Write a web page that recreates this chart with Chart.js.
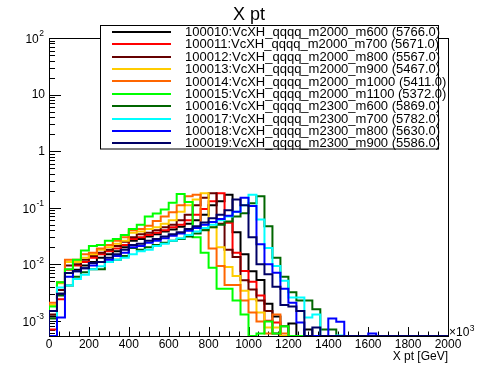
<!DOCTYPE html>
<html>
<head>
<meta charset="utf-8">
<script src="https://cdn.jsdelivr.net/npm/chart.js@4/dist/chart.umd.min.js"></script>
<style>
html,body{margin:0;padding:0;background:#fff;}
canvas{display:block;}
</style>
</head>
<body>
<canvas id="c" width="498" height="374"></canvas>
<script>
// ---- data ----
const binEdges = [0,40,80,120,160,200,240,280,320,360,400,440,480,520,560,600,640,680,720,760,
  800,840,880,920,960,1000,1040,1080,1120,1160,1200,1240,1280,1320,1360,1400,1440,1480,1520,1560,
  1600,1640,1680,1720,1760,1800,1840,1880,1920,1960,2000];

const seriesLabels = [
  "100010:VcXH_qqqq_m2000_m600 (5766.0)",
  "100011:VcXH_qqqq_m2000_m700 (5671.0)",
  "100012:VcXH_qqqq_m2000_m800 (5567.0)",
  "100013:VcXH_qqqq_m2000_m900 (5467.0)",
  "100014:VcXH_qqqq_m2000_m1000 (5411.0)",
  "100015:VcXH_qqqq_m2000_m1100 (5372.0)",
  "100016:VcXH_qqqq_m2300_m600 (5869.0)",
  "100017:VcXH_qqqq_m2300_m700 (5782.0)",
  "100018:VcXH_qqqq_m2300_m800 (5630.0)",
  "100019:VcXH_qqqq_m2300_m900 (5586.0)"
];

const s100010 = [0.0012,0.003,0.007,0.008,0.0095,0.011,0.013,0.015,0.017,0.02,
  0.026,0.028,0.031,0.034,0.038,0.041,0.046,0.052,0.06,0.075,
  0.11,0.13,0.17,0.037,0.015,0.0075,0.0053,0.002,0.0012,0,
  0.0009,0,0.0007,0,0,0,0,0,0,0, 0,0,0,0,0,0,0,0,0,0];
const s100011 = [0.0007,0.0024,0.008,0.0095,0.011,0.013,0.015,0.017,0.019,0.022,
  0.028,0.03,0.033,0.036,0.04,0.045,0.05,0.06,0.075,0.095,
  0.13,0.18,0.054,0.016,0.0076,0.0049,0.0028,0.001,0.00094,0,
  0,0,0,0,0,0,0,0,0,0, 0,0,0,0,0,0,0,0,0,0];
const s100012 = [0.0013,0.0035,0.0095,0.01,0.012,0.014,0.016,0.018,0.021,0.025,
  0.03,0.034,0.036,0.04,0.045,0.05,0.06,0.075,0.11,0.15,
  0.18,0.052,0.018,0.0135,0.0052,0.0036,0.0023,0.0015,0.0006,0.0008,
  0,0,0,0,0,0,0,0,0,0, 0,0,0,0,0,0,0,0,0,0];
const s100013 = [0.0019,0.0046,0.011,0.011,0.013,0.015,0.018,0.02,0.023,0.026,
  0.036,0.038,0.042,0.045,0.052,0.06,0.085,0.11,0.14,0.18,
  0.045,0.02,0.009,0.0062,0.0034,0.0024,0.0014,0.00076,0.00076,0,
  0,0,0,0,0,0,0,0,0,0, 0,0,0,0,0,0,0,0,0,0];
const s100014 = [0.0021,0.0048,0.012,0.012,0.015,0.016,0.019,0.022,0.026,0.03,
  0.04,0.042,0.048,0.058,0.07,0.083,0.11,0.16,0.17,0.041,
  0.019,0.0093,0.0043,0.0043,0.0023,0.0014,0.00097,0.0006,0.0013,0.0006,
  0,0,0,0,0,0,0,0,0,0, 0,0,0,0,0,0,0,0,0,0];
const s100015 = [0.0018,0.0048,0.0082,0.012,0.0176,0.021,0.022,0.026,0.028,0.033,
  0.042,0.05,0.07,0.079,0.093,0.123,0.175,0.126,0.03,0.016,
  0.0087,0.0037,0.0037,0.0023,0.0013,0,0.0006,0.00097,0.0006,0.0008,
  0,0,0,0,0,0,0,0,0,0, 0,0,0,0,0,0,0,0,0,0];
const s100016 = [0.0011,0.0028,0.0042,0.006,0.0072,0.0082,0.0082,0.011,0.012,0.014,
  0.0195,0.018,0.02,0.022,0.024,0.026,0.028,0.031,0.035,0.04,
  0.045,0.05,0.057,0.07,0.08,0.12,0.16,0.047,0.013,0.006,
  0.0032,0.0023,0.0023,0.0016,0.0007,0.0007,0,0,0,0, 0,0,0,0,0,0,0,0,0,0];
const s100017 = [0.0005,0.0039,0.0042,0.0055,0.0065,0.0082,0.0092,0.011,0.012,0.013,
  0.015,0.017,0.018,0.021,0.023,0.026,0.029,0.033,0.038,0.044,
  0.05,0.06,0.07,0.085,0.11,0.17,0.062,0.0195,0.0093,0.0051,
  0.0026,0.0026,0.00115,0.0013,0,0,0.00055,0,0,0, 0,0,0,0,0,0,0,0,0,0];
const s100018 = [0,0.00115,0.006,0.0075,0.0085,0.0095,0.011,0.012,0.014,0.016,
  0.02,0.021,0.024,0.026,0.029,0.032,0.035,0.039,0.044,0.05,
  0.056,0.063,0.072,0.085,0.15,0.107,0.0225,0.01,0.0071,0.0037,
  0.0021,0.00094,0,0,0,0.0011,0.00096,0,0,0, 0.0006,0,0,0,0,0,0,0,0,0];
const s100019 = [0.0015,0.003,0.007,0.0075,0.0085,0.0105,0.011,0.013,0.015,0.018,
  0.022,0.023,0.026,0.028,0.031,0.034,0.037,0.042,0.047,0.055,
  0.065,0.075,0.09,0.14,0.11,0.03,0.01,0.0067,0.004,0.0019,
  0.0018,0.0015,0,0.00076,0,0,0,0,0,0, 0,0,0,0,0,0,0,0,0,0];

const seriesValues = [s100010,s100011,s100012,s100013,s100014,s100015,s100016,s100017,s100018,s100019];
const seriesColors = ["#000000","#ff0000","#660000","#ffcc00","#ff6600","#00ff00","#006600","#00ffff","#0000ff","#000066"];

const xTickValues = [0,200,400,600,800,1000,1200,1400,1600,1800,2000];
const xTickLabels = ["0","200","400","600","800","1000","1200","1400","1600","1800","2000"];
const yTickValues = [1e-3,1e-2,1e-1,1,10,100];
const yTickBase = ["10","10","10","1","10","10"];
const yTickExp  = ["-3","-2","-1","","","2"];

// ---- layout/styles ----
const FONT = '"Liberation Sans", Arial, Helvetica, sans-serif';
const Y_MIN = 5.4e-4, Y_MAX = 100;

function toPoints(vals) {
  const f = v => (v > 0 ? v : Y_MIN);
  const pts = [{x: binEdges[0], y: Y_MIN}];
  vals.forEach((v, i) => pts.push({x: binEdges[i], y: f(v)}));
  pts.push({x: binEdges[vals.length], y: f(vals[vals.length - 1])});
  pts.push({x: binEdges[vals.length], y: Y_MIN});
  return pts;
}

const datasets = seriesValues.map((vals, i) => ({
  label: seriesLabels[i],
  data: toPoints(vals),
  borderColor: seriesColors[i],
  backgroundColor: seriesColors[i],
  borderWidth: 2,
  pointRadius: 0,
  fill: false,
  stepped: true,
  tension: 0,
  order: seriesValues.length - 1 - i
}));

const framePlugin = {
  id: 'frame',
  beforeDatasetsDraw(chart) {
    const ctx = chart.ctx, a = chart.chartArea;
    const xs = chart.scales.x, ys = chart.scales.y;
    ctx.save();
    ctx.strokeStyle = '#000';
    ctx.lineWidth = 1;
    ctx.strokeRect(a.left + 0.5, a.top + 0.5, a.right - a.left, a.bottom - a.top);
    ctx.beginPath();
    // y ticks (log)
    for (let d = -4; d <= 2; d++) {
      for (let m = 1; m <= 9; m++) {
        const v = m * Math.pow(10, d);
        if (v < Y_MIN || v > Y_MAX * 1.0001) continue;
        const y = Math.round(ys.getPixelForValue(v)) + 0.5;
        const len = m === 1 ? 12 : 6;
        ctx.moveTo(a.left, y); ctx.lineTo(a.left + len, y);
      }
    }
    // x ticks
    for (let v = 0; v <= 2000; v += 50) {
      const x = Math.round(xs.getPixelForValue(v)) + 0.5;
      const len = v % 200 === 0 ? 9 : 4.5;
      ctx.moveTo(x, a.bottom); ctx.lineTo(x, a.bottom - len);
    }
    ctx.stroke();
    ctx.restore();
  },
  afterDatasetsDraw(chart) {
    const ctx = chart.ctx, a = chart.chartArea;
    const xs = chart.scales.x, ys = chart.scales.y;
    ctx.save();
    ctx.fillStyle = '#000';
    // title
    ctx.font = '18px ' + FONT;
    ctx.textAlign = 'center';
    ctx.textBaseline = 'alphabetic';
    ctx.fillText('X pt', 249, 20);
    // x labels
    ctx.font = '12px ' + FONT;
    xTickValues.forEach((v, i) => {
      ctx.fillText(xTickLabels[i], xs.getPixelForValue(v), 347.5);
    });
    // x axis title
    ctx.textAlign = 'right';
    ctx.fillText('X pt [GeV]', a.right, 360);
    // x10^3
    ctx.textAlign = 'left';
    ctx.fillText('\u00d710', a.right + 1, 336);
    const w10 = ctx.measureText('\u00d710').width;
    ctx.font = '8.5px ' + FONT;
    ctx.fillText('3', a.right + 1.5 + w10, 331);
    // y labels
    ctx.textBaseline = 'middle';
    yTickValues.forEach((v, i) => {
      const y = ys.getPixelForValue(v);
      const exp = yTickExp[i];
      if (exp) {
        ctx.font = '8.5px ' + FONT;
        ctx.textAlign = 'right';
        const ew = ctx.measureText(exp).width;
        ctx.fillText(exp, 44, y - 4);
        ctx.font = '12px ' + FONT;
        ctx.fillText(yTickBase[i], 44 - ew - 0.5, y + 1.5);
      } else {
        ctx.font = '12px ' + FONT;
        ctx.textAlign = 'right';
        ctx.fillText(yTickBase[i], 45, y + 0.5);
      }
    });
    // legend
    ctx.fillStyle = '#fff';
    ctx.fillRect(100, 26, 338, 123);
    ctx.strokeStyle = '#000';
    ctx.lineWidth = 1;
    ctx.strokeRect(100.5, 25.5, 338, 123.5);
    ctx.font = '13px ' + FONT;
    ctx.textAlign = 'left';
    ctx.textBaseline = 'middle';
    chart.data.datasets.forEach((ds, i) => {
      const y = 32 + i * 12.36;
      ctx.strokeStyle = ds.borderColor;
      ctx.lineWidth = 2;
      ctx.beginPath();
      ctx.moveTo(112, Math.round(y)); ctx.lineTo(171, Math.round(y));
      ctx.stroke();
      ctx.fillStyle = '#000';
      ctx.fillText(ds.label, 185, y + 0.5);
    });
    ctx.restore();
  }
};

new Chart(document.getElementById('c'), {
  type: 'line',
  data: { datasets },
  options: {
    responsive: false,
    animation: false,
    devicePixelRatio: 1,
    layout: { padding: { left: 49, right: 50, top: 38, bottom: 38 } },
    plugins: { legend: { display: false }, title: { display: false }, tooltip: { enabled: false } },
    scales: {
      x: { type: 'linear', min: 0, max: 2000, display: false },
      y: { type: 'logarithmic', min: Y_MIN, max: Y_MAX, display: false }
    }
  },
  plugins: [framePlugin]
});
</script>
</body>
</html>
